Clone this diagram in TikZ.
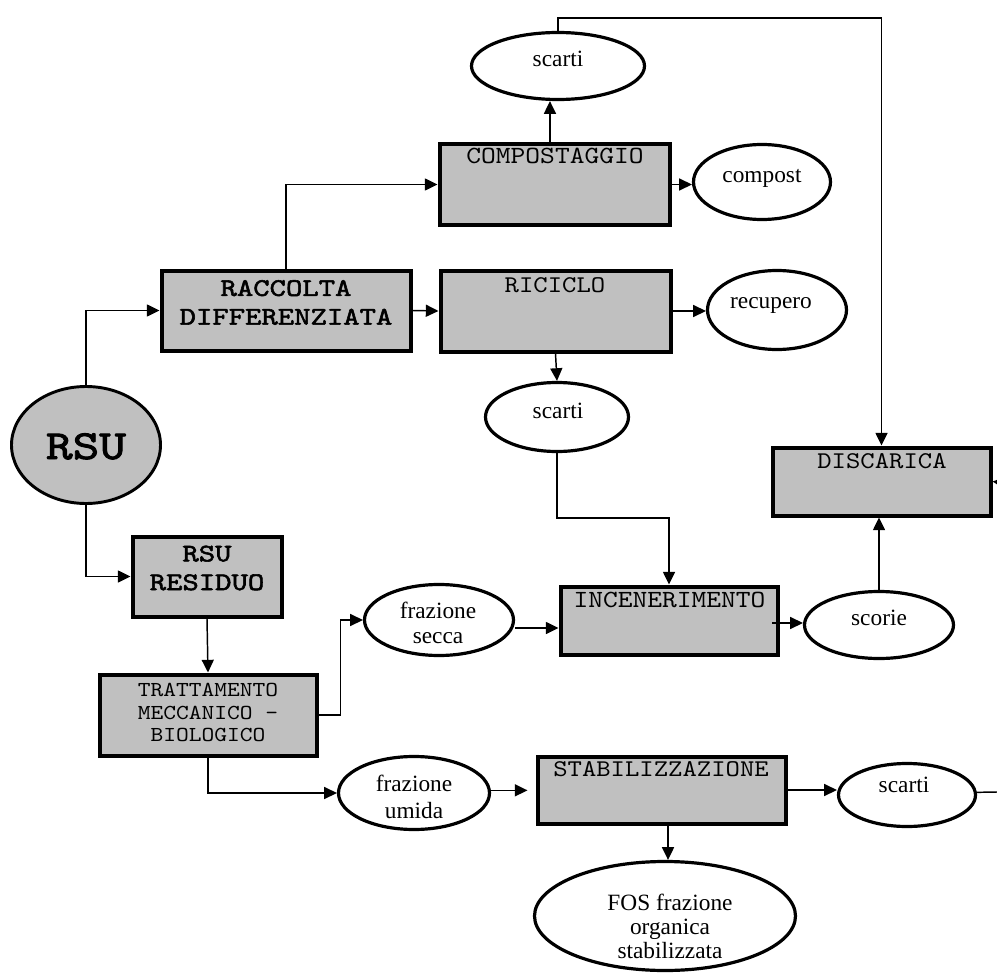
\documentclass[tikz,border=0pt]{standalone}
\usepackage{fontspec}
\setmainfont{Liberation Serif}
\newfontfamily\ttA{lmmono10-regular.otf}[FakeStretch=1.14]
\newfontfamily\ttB{lmmono10-regular.otf}[FakeStretch=1.14]
\newfontfamily\ttD{lmmono10-regular.otf}[FakeStretch=1.23, FakeBold=2.2]
\usetikzlibrary{shapes.geometric,arrows.meta}
\definecolor{boxgray}{HTML}{C0C0C0}
\begin{document}
\begin{tikzpicture}[x=0.75pt,y=-0.75pt,
  box/.style={draw, line width=3pt, fill=boxgray, rectangle, inner sep=0pt},
  oval/.style={draw, line width=2.4pt, fill=white, ellipse, inner sep=0pt},
  conn/.style={line width=1.1pt, -{Triangle[length=9.5pt,width=9pt]}},
  plainline/.style={line width=1.1pt},
  sertxt/.style={font=\fontsize{17.5pt}{19pt}\selectfont, inner sep=0pt, align=center},
  monoAtxt/.style={font=\fontsize{18pt}{20pt}\ttA, inner sep=0pt, anchor=base},
  monoBtxt/.style={font=\fontsize{18.5pt}{20pt}\ttB, inner sep=0pt, anchor=base},
  boldtxt/.style={font=\fontsize{19pt}{21.5pt}\ttD, inner sep=0pt, align=center}
]
\useasboundingbox (0,0) rectangle (997,974);

% boxes
\node[box, minimum width=186.75pt, minimum height=60pt] (racc) at (286,310.5) {};
\node[box, minimum width=172.5pt, minimum height=60pt] (comp) at (554.5,184.5) {};
\node[box, minimum width=172.5pt, minimum height=60.75pt] (ric) at (555.5,311) {};
\node[box, minimum width=163.5pt, minimum height=51pt] (disc) at (881.5,481.5) {};
\node[box, minimum width=111.75pt, minimum height=60pt] (resid) at (207,576.5) {};
\node[box, minimum width=162.75pt, minimum height=60.75pt] (tratt) at (208,715) {};
\node[box, minimum width=162.75pt, minimum height=51pt] (inc) at (669,620.5) {};
\node[box, minimum width=186pt, minimum height=50.25pt] (stab) at (661.5,790) {};

% ellipses
\node[oval, fill=boxgray, line width=2.2pt, minimum width=111.75pt, minimum height=87.75pt] (rsu) at (86,445) {};
\node[oval, minimum width=129.75pt, minimum height=50.25pt] (sc1) at (558,66) {};
\node[oval, minimum width=102.75pt, minimum height=56.25pt] (compost) at (762,182) {};
\node[oval, minimum width=104.25pt, minimum height=59.25pt] (recup) at (777,310) {};
\node[oval, minimum width=107.25pt, minimum height=51.75pt] (sc2) at (557,417) {};
\node[oval, minimum width=111.75pt, minimum height=53.25pt] (fs) at (439,620) {};
\node[oval, minimum width=111.75pt, minimum height=50.25pt] (scorie) at (879,625) {};
\node[oval, minimum width=113.25pt, minimum height=54.75pt] (fu) at (414,793) {};
\node[oval, minimum width=102.75pt, minimum height=47.25pt] (sc3) at (907,795) {};
\node[oval, minimum width=195.75pt, minimum height=81.75pt] (fos) at (665,916) {};

% texts in boxes
\node[boldtxt] (racc-t) at (286,302.5) {RACCOLTA\\DIFFERENZIATA};
\node[monoBtxt] (comp-t) at (555,164) {COMPOSTAGGIO};
\node[monoAtxt] (ric-t) at (555,292) {RICICLO};
\node[monoAtxt] (disc-t) at (882,468) {DISCARICA};
\node[boldtxt] (resid-t) at (207,568) {RSU\\RESIDUO};
\node[font=\fontsize{16pt}{17pt}\ttA, inner sep=0pt, align=center] (tratt-t) at (208,712.5) {TRATTAMENTO\\MECCANICO -\\BIOLOGICO};
\node[monoBtxt] (inc-t) at (669.5,607) {INCENERIMENTO};
\node[monoAtxt] (stab-t) at (661,776) {STABILIZZAZIONE};

% texts in ellipses
\node[font=\fontsize{31pt}{33pt}\ttD, inner sep=0pt, anchor=base] (rsu-t) at (86,459) {RSU};
\node[sertxt, anchor=base] (sc1-t) at (558,67) {scarti};
\node[sertxt, anchor=base] (compost-t) at (762,182) {compost};
\node[sertxt, anchor=base] (recup-t) at (771,308) {recupero};
\node[sertxt, anchor=base] (sc2-t) at (558,418) {scarti};
\node[sertxt, anchor=base] (scorie-t) at (879,625) {scorie};
\node[sertxt, anchor=base] (sc3-t) at (904,792) {scarti};
\node[sertxt, font=\fontsize{17.5pt}{18.75pt}\selectfont] (fs-t) at (438,622.5) {frazione\\secca};
\node[sertxt, font=\fontsize{17.5pt}{20pt}\selectfont] (fu-t) at (414,797) {frazione\\umida};
\node[sertxt, font=\fontsize{17.5pt}{18pt}\selectfont] (fos-t) at (670,926) {FOS frazione\\organica\\stabilizzata};

% free ends
\coordinate (incout) at (772,623);
\coordinate (edge3) at (997,792);
\coordinate (edge1) at (997,482);

% connectors
\draw[conn] (rsu.north) |- (racc.west);
\draw[conn] (racc.north) |- (comp.west);
\draw[conn] (racc.east) -- (ric.west);
\draw[conn] ([xshift=-3.4pt]comp.north) -- ([xshift=-3.4pt]comp.north |- sc1.south);
\draw[conn] (comp.east) -- (comp.east -| compost.west);
\draw[conn] (sc1.north) -- ++(0,-13) -| (disc.north);
\draw[conn] (ric.east) -- (ric.east -| recup.west);
\draw[conn] (ric.south) -- (sc2.north);
\draw[conn] (sc2.south) -- ++(0,65) -| (inc.north);
\draw[conn] (scorie.north) -- (scorie.north |- disc.south);
\draw[conn] (rsu.south) |- (resid.west);
\draw[conn] (resid.south) -- (tratt.north);
\draw[conn] (tratt.east) -- ++(22,0) |- (fs.west);
\draw[conn] (tratt.south) |- (fu.west);
\draw[conn] ([yshift=-6pt]fs.east) -- ([yshift=-6pt]fs.east -| inc.west);
\draw[conn] (incout) -- (incout -| scorie.west);
\draw[conn, shorten >=6pt] ([yshift=2pt]fu.east) -- ([yshift=2pt]fu.east -| stab.west);
\draw[conn] (stab.east) -- (stab.east -| sc3.west);
\draw[conn] ([xshift=4.9pt]stab.south) -- ([xshift=4.9pt]stab.south |- fos.north);
\draw[plainline] ([yshift=2pt]sc3.east) -- (edge3);
\draw[conn] (edge1) -- (disc.east);
\end{tikzpicture}
\end{document}
